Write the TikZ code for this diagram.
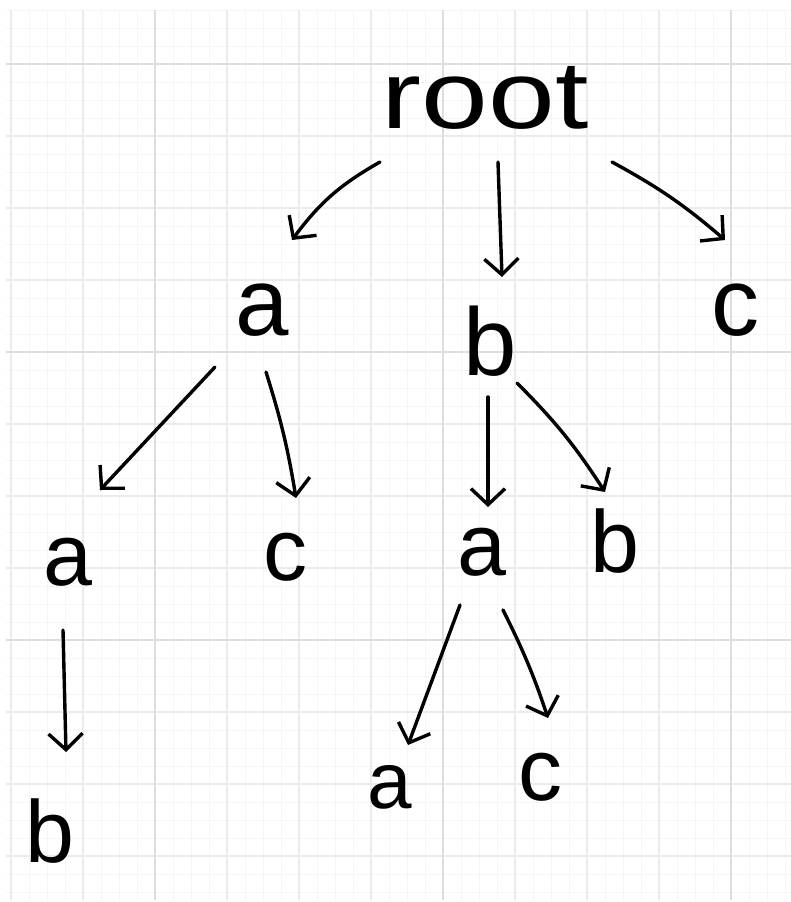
\documentclass[tikz,border=0pt]{standalone}
\usepackage{fontspec}
\setmainfont{Liberation Sans}
\usetikzlibrary{arrows.meta,calc}
\begin{document}
\begin{tikzpicture}[x=1pt,y=-1pt,
  hw/.style={inner sep=0pt, anchor=base, text=black},
  big/.style={font=\fontsize{96}{96}\selectfont},
  mid/.style={font=\fontsize{88}{88}\selectfont},
  small/.style={font=\fontsize{80}{80}\selectfont},
  arr/.style={draw=black, line width=3.4pt, line cap=round, line join=round,
    -{Straight Barb[length=16pt,width=34pt]}},
  minorg/.style={draw=black!4, line width=1pt},
  medg/.style={draw=black!8, line width=1.2pt},
  majg/.style={draw=black!13, line width=1.5pt}]
\useasboundingbox (0,0) rectangle (791,902);
\fill[white] (0,0) rectangle (791,902);
% grid
\foreach \i in {0,...,43} \draw[minorg] ({11+18*\i},10) -- ({11+18*\i},900);
\foreach \j in {0,...,49} \draw[minorg] (6,{10+18*\j}) -- (791,{10+18*\j});
\foreach \i in {0,...,10} \draw[medg] ({11+72*\i},10) -- ({11+72*\i},900);
\foreach \j in {0,...,11} \draw[medg] (6,{64+72*\j}) -- (791,{64+72*\j});
\foreach \i in {0,1,2} \draw[majg] ({155+288*\i},10) -- ({155+288*\i},900);
\foreach \j in {0,1,2} \draw[majg] (6,{64+288*\j}) -- (791,{64+288*\j});
% nodes
\node[hw,big,xscale=1.25] (root) at (485,128) {root};
\node[hw,big] (a1) at (262,335) {a};
\node[hw,big] (b1) at (490,375) {b};
\node[hw,big] (c1) at (735,335) {c};
\node[hw,mid] (a2l) at (68,585) {a};
\node[hw,mid] (c2) at (285,580) {c};
\node[hw,mid] (a2m) at (482,575) {a};
\node[hw,mid] (b2r) at (615,572) {b};
\node[hw,mid] (b3) at (50,862) {b};
\node[hw,small] (a3) at (390,808) {a};
\node[hw,mid] (c3) at (540,800) {c};
% arrows
\draw[arr] ($(root.base)+(-105,34)$) to[bend right=12] ($(a1.base)+(30,-95)$);
\draw[arr] ($(root.base)+(13,34)$) -- ($(b1.base)+(12,-98)$);
\draw[arr] ($(root.base)+(127,34)$) to[bend left=6] ($(c1.base)+(-10,-95)$);
\draw[arr] ($(a1.base)+(-47,32)$) -- ($(a2l.base)+(32,-95)$);
\draw[arr] ($(a1.base)+(4,37)$) to[bend left=4] ($(c2.base)+(11,-82)$);
\draw[arr] ($(b1.base)+(-2,22)$) -- ($(a2m.base)+(6,-68)$);
\draw[arr] ($(b1.base)+(27,8)$) to[bend left=6] ($(b2r.base)+(-10,-80)$);
\draw[arr] ($(a2l.base)+(-5,45)$) -- ($(b3.base)+(16,-110)$);
\draw[arr] ($(a2m.base)+(-22,30)$) -- ($(a3.base)+(18,-63)$);
\draw[arr] ($(a2m.base)+(21,35)$) to[bend left=4] ($(c3.base)+(8,-82)$);
\end{tikzpicture}
\end{document}
